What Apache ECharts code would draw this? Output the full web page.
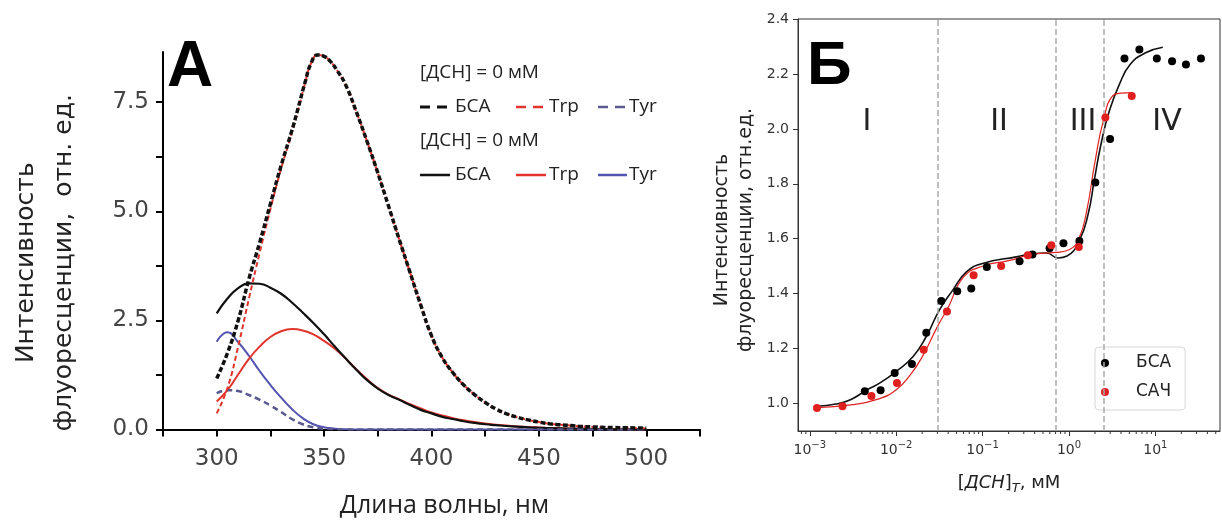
<!DOCTYPE html>
<html><head><meta charset="utf-8">
<script src="https://cdn.jsdelivr.net/npm/echarts@6/dist/echarts.min.js"></script>
<style>html,body{margin:0;padding:0;background:#fff}#c{width:1222px;height:524px}</style>
</head><body><div id="c"></div>
<script>
// ---------- Panel A: spectra ----------
const wavelengths = [300,305,310,315,320,325,330,335,340,345,350,355,360,365,370,375,380,385,390,395,400,405,410,415,420,425,430,435,440,445,450,455,460,465,470,475,480,485,490,495,500];
// finer sampling around the [ДСН] = 0 emission maximum
const wavelengthsDashed = [300,305,310,315,320,325,330,335,338,341,344,347,350,353,356,360,365,370,375,380,385,390,395,400,405,410,415,420,425,430,435,440,445,450,455,460,465,470,475,480,485,490,495,500];
const bsaDashed = [1.17,1.75,2.50,3.45,4.28,5.17,6.05,6.85,7.38,7.93,8.40,8.58,8.55,8.43,8.23,7.90,7.28,6.60,5.88,5.12,4.35,3.60,2.85,2.15,1.65,1.30,1.02,0.80,0.62,0.47,0.36,0.28,0.22,0.17,0.13,0.11,0.09,0.07,0.06,0.05,0.045,0.04,0.035,0.03];
const trpDashed = [0.37,0.95,1.90,3.00,4.05,5.05,5.98,6.80,7.34,7.91,8.40,8.58,8.55,8.43,8.23,7.90,7.28,6.60,5.88,5.12,4.35,3.60,2.85,2.15,1.65,1.30,1.02,0.80,0.62,0.47,0.36,0.28,0.22,0.17,0.13,0.11,0.09,0.07,0.06,0.05,0.045,0.04,0.035,0.03];
const tyrDashed = [0.83,0.90,0.88,0.79,0.68,0.55,0.40,0.24,0.12,0.05,0.02,0.01,0.005,0,0,0,0,0,0,0,0,0,0,0,0,0,0,0,0,0,0,0,0,0,0,0,0,0,0,0,0];
const bsaSolid = [2.66,3.00,3.24,3.35,3.34,3.25,3.11,2.91,2.68,2.44,2.18,1.90,1.63,1.37,1.13,0.94,0.79,0.68,0.56,0.45,0.37,0.29,0.24,0.19,0.15,0.12,0.10,0.08,0.065,0.05,0.04,0.03,0.025,0.02,0.015,0.01,0.01,0.005,0.005,0,0];
const trpSolid = [0.64,0.90,1.26,1.62,1.90,2.12,2.25,2.30,2.27,2.18,2.03,1.85,1.63,1.38,1.15,0.95,0.80,0.69,0.58,0.48,0.39,0.32,0.26,0.21,0.17,0.14,0.11,0.09,0.07,0.055,0.045,0.035,0.03,0.02,0.015,0.01,0.01,0.005,0.005,0,0];
const tyrSolid = [2.01,2.23,2.00,1.69,1.34,1.02,0.73,0.47,0.26,0.12,0.05,0.02,0.005,0,0,0,0,0,0,0,0,0,0,0,0,0,0,0,0,0,0,0,0,0,0,0,0,0,0,0,0];
const yTicksA = [0, 2.5, 5, 7.5];

// ---------- Panel B: titration ----------
const bsaX = [0.00433,0.0066,0.0096,0.0152,0.0223,0.0333,0.0509,0.074,0.112,0.268,0.378,0.596,0.863,1.32,2.02,2.99,4.39,6.53,10.4,15.6,22.6,33.7];
const bsaY = [1.045,1.048,1.111,1.144,1.258,1.373,1.409,1.419,1.497,1.518,1.543,1.565,1.584,1.592,1.805,1.963,2.256,2.289,2.256,2.246,2.234,2.256];
const samX = [0.00121,0.00239,0.00517,0.0102,0.0208,0.0387,0.0787,0.164,0.334,0.625,1.30,2.64,5.33];
const samY = [0.984,0.990,1.027,1.075,1.196,1.335,1.467,1.501,1.540,1.576,1.570,2.041,2.12];
const bsaFitX = [0.00121,0.002,0.003,0.0045,0.0065,0.01,0.0157,0.0223,0.0317,0.0452,0.065,0.1,0.245,0.38,0.55,0.746,0.95,1.32,1.67,1.96,2.35,2.93,3.83,5.1,7.6,12.2];
const bsaFitY = [0.990,0.998,1.015,1.048,1.075,1.117,1.171,1.244,1.341,1.413,1.479,1.51,1.534,1.545,1.548,1.53,1.537,1.594,1.691,1.812,1.945,2.065,2.162,2.234,2.276,2.297];
const samFitX = [0.00121,0.003,0.006,0.01,0.015,0.02,0.03,0.04,0.06,0.1,0.2,0.4,0.7,1.0,1.3,1.6,2.0,2.5,3.2,4.0,5.4];
const samFitY = [0.985,0.995,1.015,1.05,1.11,1.17,1.28,1.35,1.46,1.50,1.52,1.545,1.55,1.56,1.60,1.70,1.88,2.03,2.12,2.13,2.132];
const regionBounds = [0.03, 0.7, 2.5];
const regionNames = ['I','II','III','IV'];
const legendNamesA = ['БСА','Trp','Tyr'];
const legendHeaderA = '[ДСН] = 0 мМ';

const decades = [1e-4,1e-3,1e-2,1e-1,1,10];
const minorTicksB = [];
decades.forEach(d => { for (let m = 2; m <= 9; m++) { const v = d*m; if (v > 7.3e-4 && v < 56) minorTicksB.push(+v.toPrecision(3)); } });

const pairs = (xs, ys) => xs.map((w,i)=>[w, ys[i]]);

const chart = echarts.init(document.getElementById('c'), null, {renderer:'canvas'});

const colBlack = '#111', colRed = '#e0342c', colBlue = '#5353b0', colBlueD = '#59598f';
const legendFont = '19px "Open Sans"';

function legendRowA(y, dashed) {
  const items = [];
  const segs = [[420,450,colBlack,dashed?3:2.5],[516,546,colRed,2.5],[598,627,dashed?colBlueD:colBlue,2.5]];
  const tx = [455, 549, 629];
  segs.forEach((s,i) => {
    items.push({type:'line', shape:{x1:s[0],y1:y,x2:s[1],y2:y}, style:{stroke:s[2], lineWidth:s[3], lineDash: dashed ? [10,7] : null}});
    items.push({type:'text', x:tx[i], y:y, style:{text:legendNamesA[i], font:legendFont, fill:'#222', align:'left', verticalAlign:'middle'}});
  });
  return items;
}

const graphics = [
  {type:'text', x:167, y:68, style:{text:'А', font:'bold 64px "Liberation Sans"', fill:'#000', align:'left', verticalAlign:'middle'}},
  {type:'text', x:807, y:67, style:{text:'Б', font:'bold 62px "Liberation Sans"', fill:'#000', align:'left', verticalAlign:'middle'}},
  {type:'text', x:420, y:73, style:{text:legendHeaderA, font:legendFont, fill:'#222', align:'left', verticalAlign:'middle'}},
  {type:'text', x:420, y:141, style:{text:legendHeaderA, font:legendFont, fill:'#222', align:'left', verticalAlign:'middle'}},
  ...legendRowA(107, true),
  ...legendRowA(175, false)
];
const romanX = [867, 999, 1083, 1167];
regionNames.forEach((t,i) => graphics.push({type:'text', x:romanX[i], y:122, style:{text:t, font:'30px "DejaVu Sans"', fill:'#222', align:'center', verticalAlign:'middle'}}));

function lineA(name, xs, ys, color, width, dash, z) {
  return {name, type:'line', xAxisIndex:0, yAxisIndex:0, data:pairs(xs, ys), showSymbol:false, smooth:0.5,
    lineStyle:{color, width, type: dash || 'solid'}, z, silent:true};
}

const option = {
  animation:false,
  backgroundColor:'#fff',
  grid:[
    {left:163, top:52, right:522, bottom:94.5, show:false},
    {left:798, top:19, right:2, bottom:93, show:true, borderColor:'#333', borderWidth:1}
  ],
  xAxis:[
    {type:'value', gridIndex:0, min:275, max:525, splitNumber:5,
     axisLine:{show:true, onZero:false, lineStyle:{color:'#000', width:2}},
     axisTick:{show:true, length:7, lineStyle:{color:'#000', width:2}},
     minorTick:{show:true, splitNumber:2, length:7, lineStyle:{color:'#000', width:2}},
     splitLine:{show:false},
     axisLabel:{showMinLabel:false, showMaxLabel:false, fontFamily:'DejaVu Sans', fontSize:23, color:'#444', margin:18},
     name:'Длина волны, нм', nameLocation:'middle', nameGap:64,
     nameTextStyle:{fontFamily:'Open Sans', fontSize:25, color:'#222', padding:[0,0,0,26]}},
    {type:'log', logBase:10, gridIndex:1, min:7.3e-4, max:56,
     axisLine:{show:true, onZero:false, lineStyle:{color:'#333', width:1}},
     axisTick:{show:true, length:5, lineStyle:{color:'#333', width:1}},
     splitLine:{show:false},
     axisLabel:{showMinLabel:false, showMaxLabel:false, margin:9,
       formatter: v => { const e = Math.round(Math.log10(v)); return '{b|10}{s|' + (e<0?'\u2212':'') + Math.abs(e) + '}'; },
       rich:{ b:{fontFamily:'DejaVu Sans', fontSize:14, color:'#333', lineHeight:20}, s:{fontFamily:'DejaVu Sans', fontSize:10, color:'#333', verticalAlign:'top'} }},
     name:'[{i|ДСН}]{sub|T}, мМ', nameLocation:'middle', nameGap:40,
     nameTextStyle:{fontFamily:'DejaVu Sans', fontSize:18, color:'#222', lineHeight:24,
       rich:{ i:{fontFamily:'DejaVu Sans', fontStyle:'italic', fontSize:18, color:'#222', lineHeight:24},
              sub:{fontFamily:'DejaVu Sans', fontStyle:'italic', fontSize:13, color:'#222', verticalAlign:'bottom'} }}}
  ],
  yAxis:[
    {type:'value', gridIndex:0, min:0, max:8.65, interval:2.5,
     axisLine:{show:true, onZero:false, lineStyle:{color:'#000', width:2}},
     axisTick:{show:true, length:7, customValues:yTicksA, lineStyle:{color:'#000', width:2}},
     minorTick:{show:true, splitNumber:2, length:7, lineStyle:{color:'#000', width:2}},
     splitLine:{show:false},
     axisLabel:{customValues:yTicksA, fontFamily:'DejaVu Sans', fontSize:23, color:'#444', margin:14, formatter: v => v.toFixed(1)},
     name:'Интенсивность\nфлуоресценции,  отн. ед.', nameLocation:'middle', nameGap:80,
     nameTextStyle:{fontFamily:'DejaVu Sans', fontSize:25, color:'#222', lineHeight:38, padding:[0,44,0,0]}},
    {type:'value', gridIndex:1, min:0.9, max:2.4, splitNumber:7,
     axisLine:{show:true, onZero:false, lineStyle:{color:'#333', width:1}},
     axisTick:{show:true, length:5, lineStyle:{color:'#333', width:1}},
     splitLine:{show:false},
     axisLabel:{showMinLabel:false, fontFamily:'DejaVu Sans', fontSize:14, color:'#333', margin:9, formatter: v => v.toFixed(1)},
     name:'Интенсивность\nфлуоресценции, отн.ед.', nameLocation:'middle', nameGap:40,
     nameTextStyle:{fontFamily:'DejaVu Sans', fontSize:19, color:'#222', lineHeight:24, padding:[0,10,0,0]}}
  ],
  legend:{data:['БСА','САЧ'], orient:'vertical', left:1095, top:347, padding:[6,14,8,6],
    itemWidth:52, itemHeight:8, itemGap:9, icon:'circle', backgroundColor:'#fff', borderColor:'#d8d8d8', borderWidth:1, borderRadius:4,
    textStyle:{fontFamily:'DejaVu Sans', fontSize:17, color:'#222', lineHeight:20}},
  graphic: graphics,
  series:[
    lineA('Tyr SDS', wavelengths, tyrSolid, colBlue, 2, null, 2),
    lineA('Trp SDS', wavelengths, trpSolid, colRed, 2, null, 3),
    lineA('БСА SDS', wavelengths, bsaSolid, colBlack, 2.2, null, 4),
    lineA('Tyr 0', wavelengths, tyrDashed, colBlueD, 2.5, [6,4], 5),
    lineA('Trp 0', wavelengthsDashed, trpDashed, colRed, 2, [5,3], 6),
    lineA('БСА 0', wavelengthsDashed, bsaDashed, colBlack, 3.5, [5,2.5], 7),
    {name:'БСА фит', type:'line', xAxisIndex:1, yAxisIndex:1, data:pairs(bsaFitX,bsaFitY), showSymbol:false, smooth:0.5,
     lineStyle:{color:'#111', width:1.6}, z:4, silent:true,
     markLine:{silent:true, symbol:'none', label:{show:false}, lineStyle:{type:'dashed', color:'#aaa', width:1.5},
       data: regionBounds.map(x => ({xAxis:x}))}},
    {name:'САЧ фит', type:'line', xAxisIndex:1, yAxisIndex:1, data:pairs(samFitX,samFitY), showSymbol:false, smooth:0.5,
     lineStyle:{color:'#e02020', width:1.2}, z:4, silent:true},
    {name:'БСА', type:'scatter', xAxisIndex:1, yAxisIndex:1, data:pairs(bsaX,bsaY), symbolSize:8, itemStyle:{color:'#000', opacity:1}, z:5},
    {name:'САЧ', type:'scatter', xAxisIndex:1, yAxisIndex:1, data:pairs(samX,samY), symbolSize:8, itemStyle:{color:'#e0201e', opacity:1}, z:5},
    {name:'minor', type:'custom', xAxisIndex:1, yAxisIndex:1, data:minorTicksB.map(v=>[v,0.9]), clip:false, silent:true,
     renderItem:(params, api) => { const p = api.coord([api.value(0), api.value(1)]);
       return {type:'line', shape:{x1:p[0], y1:p[1], x2:p[0], y2:p[1]+3}, style:{stroke:'#333', lineWidth:1}}; }}
  ]
};
chart.setOption(option);
</script></body></html>
